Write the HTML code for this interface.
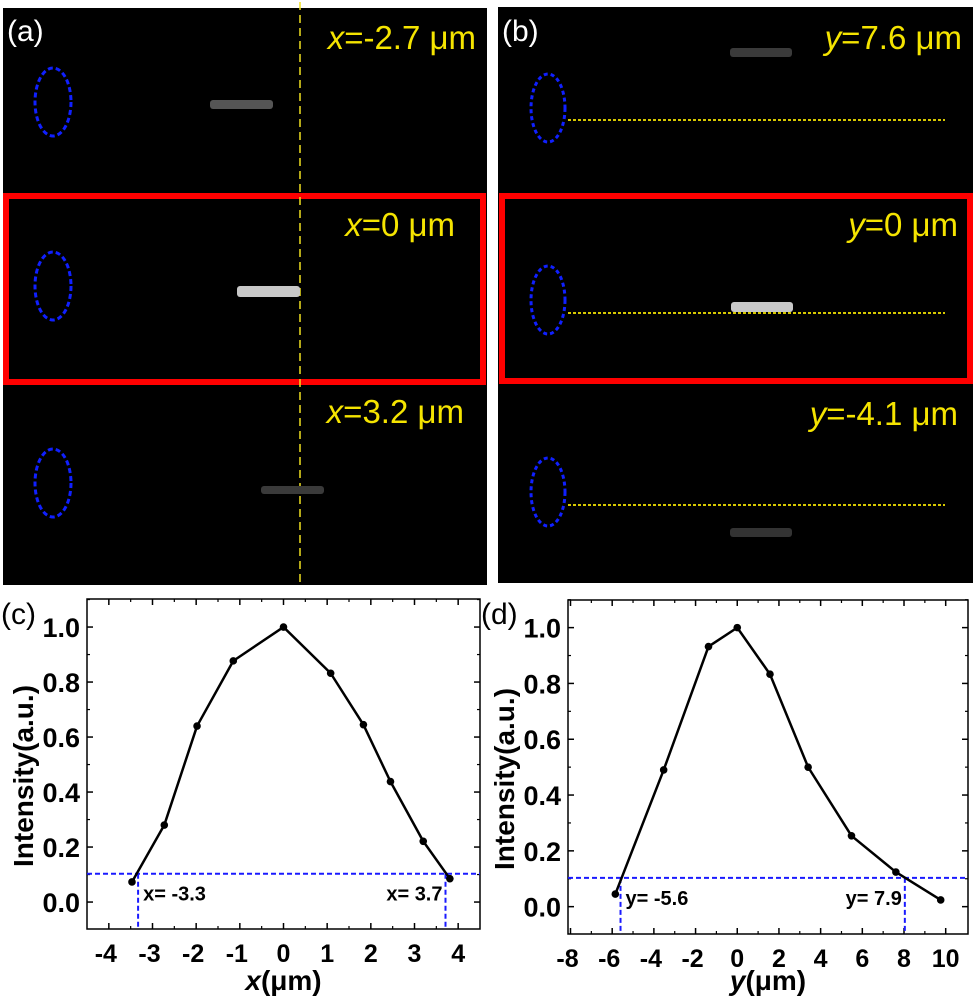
<!DOCTYPE html>
<html><head><meta charset="utf-8"><style>
html,body{margin:0;padding:0;background:#fff}
svg{display:block}
text{font-family:"Liberation Sans",Arial,sans-serif}
</style></head><body>
<svg id="fig" width="975" height="1000" viewBox="0 0 975 1000" xmlns="http://www.w3.org/2000/svg">
<g>
<rect x="3" y="8" width="484" height="577" fill="#000"/>
<rect x="6" y="196" width="477" height="186" fill="none" stroke="#f00" stroke-width="6"/>
<line x1="300" y1="2" x2="300" y2="585" stroke="#f0e020" stroke-width="1.5" stroke-dasharray="8,5"/>
<ellipse cx="53" cy="102" rx="18" ry="34" fill="none" stroke="#1020ff" stroke-width="3" stroke-dasharray="5,3"/>
<ellipse cx="53" cy="286" rx="18" ry="34" fill="none" stroke="#1020ff" stroke-width="3" stroke-dasharray="5,3"/>
<ellipse cx="53" cy="483" rx="18" ry="34" fill="none" stroke="#1020ff" stroke-width="3" stroke-dasharray="5,3"/>
<rect x="210" y="100" width="63" height="9" rx="3" fill="#555"/>
<rect x="237" y="286" width="63" height="11" rx="3" fill="#c8c8c8"/>
<rect x="261" y="486" width="63" height="8" rx="3" fill="#3a3a3a"/>
<text x="7" y="41" fill="#fff" font-size="30">(a)</text>
<text x="476" y="49" fill="#f5e400" font-size="33" text-anchor="end"><tspan font-style="italic">x</tspan>=-2.7 μm</text>
<text x="455" y="236" fill="#f5e400" font-size="33" text-anchor="end"><tspan font-style="italic">x</tspan>=0 μm</text>
<text x="464" y="423" fill="#f5e400" font-size="33" text-anchor="end"><tspan font-style="italic">x</tspan>=3.2 μm</text>
</g>
<g>
<rect x="498" y="7" width="475" height="576" fill="#000"/>
<rect x="502" y="196" width="468" height="185" fill="none" stroke="#f00" stroke-width="6"/>
<ellipse cx="548" cy="108" rx="17" ry="34" fill="none" stroke="#1020ff" stroke-width="3" stroke-dasharray="4,3"/>
<ellipse cx="548" cy="300" rx="17" ry="34" fill="none" stroke="#1020ff" stroke-width="3" stroke-dasharray="4,3"/>
<ellipse cx="548" cy="492" rx="17" ry="34" fill="none" stroke="#1020ff" stroke-width="3" stroke-dasharray="4,3"/>
<line x1="568" y1="120" x2="945" y2="120" stroke="#f5e400" stroke-width="1.8" stroke-dasharray="3,2"/>
<line x1="568" y1="313" x2="945" y2="313" stroke="#f5e400" stroke-width="1.8" stroke-dasharray="3,2"/>
<line x1="568" y1="505" x2="945" y2="505" stroke="#f5e400" stroke-width="1.8" stroke-dasharray="3,2"/>
<rect x="730" y="48" width="62" height="9" rx="3" fill="#3a3a3a"/>
<rect x="731" y="302" width="62" height="10" rx="3" fill="#c8c8c8"/>
<rect x="730" y="528" width="62" height="9" rx="3" fill="#333"/>
<text x="502" y="41" fill="#fff" font-size="30">(b)</text>
<text x="962" y="49" fill="#f5e400" font-size="33" text-anchor="end"><tspan font-style="italic">y</tspan>=7.6 μm</text>
<text x="958" y="236" fill="#f5e400" font-size="33" text-anchor="end"><tspan font-style="italic">y</tspan>=0 μm</text>
<text x="958" y="425" fill="#f5e400" font-size="33" text-anchor="end"><tspan font-style="italic">y</tspan>=-4.1 μm</text>
</g>
<g id="chartC"></g>
<g id="chartD"></g>
</svg>
<script>
const cX = [-3.47, -2.73, -1.98, -1.15, 0, 1.08, 1.83, 2.45, 3.2, 3.81];
const cY = [0.073, 0.28, 0.64, 0.877, 1.0, 0.832, 0.645, 0.438, 0.221, 0.085];
const cXTicks = [-4, -3, -2, -1, 0, 1, 2, 3, 4];
const cThreshold = 0.103;
const cCross = [-3.33, 3.71];
const cCrossLabels = ["x= -3.3", "x= 3.7"];
const dX = [-5.85, -3.53, -1.38, 0, 1.57, 3.4, 5.48, 7.61, 9.76];
const dY = [0.045, 0.49, 0.932, 1.0, 0.833, 0.5, 0.254, 0.124, 0.024];
const dXTicks = [-8, -6, -4, -2, 0, 2, 4, 6, 8, 10];
const dThreshold = 0.103;
const dCross = [-5.6, 8.04];
const dCrossLabels = ["y= -5.6", "y= 7.9"];
const yTicks = [0.0, 0.2, 0.4, 0.6, 0.8, 1.0];

const NS = "http://www.w3.org/2000/svg";
function mk(parent, tag, attrs, txt) {
  const el = document.createElementNS(NS, tag);
  for (const k in attrs) el.setAttribute(k, attrs[k]);
  if (txt !== undefined) el.textContent = txt;
  parent.appendChild(el);
  return el;
}
function drawChart(g, cfg) {
  const {L, R, T, B, xmin, xmax, ymin, ymax, xs, ys, xticks, minorStep, thr, cross, crossLabels, label, xvar} = cfg;
  const sx = v => L + (v - xmin) / (xmax - xmin) * (R - L);
  const sy = v => B - (v - ymin) / (ymax - ymin) * (B - T);
  const frame = mk(g, "rect", {x: L, y: T, width: R - L, height: B - T, fill: "none", stroke: "#000", "stroke-width": 1.5});
  
  
  xticks.forEach((v, i) => {
    const x = sx(v);
    const t1 = mk(g, "line", {x1: x, y1: B, x2: x, y2: B - 6, stroke: "#000", "stroke-width": 1.5});
    
    
    const t2 = mk(g, "line", {x1: x, y1: T, x2: x, y2: T + 6, stroke: "#000", "stroke-width": 1.5});
    
    
    const lb = mk(g, "text", {x: x - (v < 0 ? 3 : 0), y: B + 33, "text-anchor": "middle", "font-size": 25, "font-weight": "bold"}, String(v));
    
    
    if (i < xticks.length - 1) {
      const m = sx(v + minorStep);
      const t3 = mk(g, "line", {x1: m, y1: B, x2: m, y2: B - 3, stroke: "#000", "stroke-width": 1.2});
      
      
      const t4 = mk(g, "line", {x1: m, y1: T, x2: m, y2: T + 3, stroke: "#000", "stroke-width": 1.2});
      
      
    }
  });
  yTicks.forEach((v, i) => {
    const y = sy(v);
    const t1 = mk(g, "line", {x1: L, y1: y, x2: L + 6, y2: y, stroke: "#000", "stroke-width": 1.5});
    
    
    const t2 = mk(g, "line", {x1: R, y1: y, x2: R - 6, y2: y, stroke: "#000", "stroke-width": 1.5});
    
    
    const lb = mk(g, "text", {x: L - 7, y: y + 10, "text-anchor": "end", "font-size": 27, "font-weight": "bold"}, v.toFixed(1));
    
    
    const m = sy(v + 0.1);
    const t3 = mk(g, "line", {x1: L, y1: m, x2: L + 3, y2: m, stroke: "#000", "stroke-width": 1.2});
    
    
    const t4 = mk(g, "line", {x1: R, y1: m, x2: R - 3, y2: m, stroke: "#000", "stroke-width": 1.2});
    
    
  });
  const th = mk(g, "line", {x1: L, y1: sy(thr), x2: R, y2: sy(thr), stroke: "#1a1aff", "stroke-width": 2, "stroke-dasharray": "5,3"});
  
  
  cross.forEach((v, i) => {
    const vl = mk(g, "line", {x1: sx(v), y1: sy(thr), x2: sx(v), y2: B, stroke: "#1a1aff", "stroke-width": 2, "stroke-dasharray": "5,3"});
    
    
    const tl = mk(g, "text", {x: i === 0 ? sx(v) + 5 : sx(v) - 3, y: sy(thr) + 27, "text-anchor": i === 0 ? "start" : "end", "font-size": 20, "font-weight": "bold"}, crossLabels[i]);
    
    
  });
  const pts = xs.map((v, i) => sx(v) + "," + sy(ys[i])).join(" ");
  const pl = mk(g, "polyline", {points: pts, fill: "none", stroke: "#000", "stroke-width": 2.5, "stroke-linejoin": "round"});
  
  
  xs.forEach((v, i) => {
    const c = mk(g, "circle", {cx: sx(v), cy: sy(ys[i]), r: 3.8, fill: "#000"});
    
    
  });
  const pl2 = mk(g, "text", {x: cfg.labX, y: cfg.labY, "font-size": 30}, label);
  
  
  const yt = mk(g, "text", {x: 0, y: 0, transform: `translate(${cfg.yTitleX},${(T + B) / 2 + 12}) rotate(-90)`, "text-anchor": "middle", "font-size": 28, "font-weight": "bold"}, "Intensity(a.u.)");
  
  
  const xt = mk(g, "text", {x: (L + R) / 2, y: cfg.xTitleY, "text-anchor": "middle", "font-size": 28, "font-weight": "bold"});
  
  
  mk(xt, "tspan", {"font-style": "italic"}, xvar);
  mk(xt, "tspan", {}, "(μm)");
}
drawChart(document.getElementById("chartC"), {
  L: 87, R: 480, T: 599, B: 929, xmin: -4.5, xmax: 4.5, ymin: -0.098, ymax: 1.102,
  xs: cX, ys: cY, xticks: cXTicks, minorStep: 0.5, thr: cThreshold, cross: cCross, crossLabels: cCrossLabels,
  label: "(c)", labX: 1, labY: 624, xvar: "x", yTitleX: 33, xTitleY: 990
});
drawChart(document.getElementById("chartD"), {
  L: 568, R: 968, T: 600, B: 934, xmin: -8.12, xmax: 11.07, ymin: -0.098, ymax: 1.099,
  xs: dX, ys: dY, xticks: dXTicks, minorStep: 1, thr: dThreshold, cross: dCross, crossLabels: dCrossLabels,
  label: "(d)", labX: 481, labY: 624, xvar: "y", yTitleX: 514, xTitleY: 990
});
</script>
</body></html>
